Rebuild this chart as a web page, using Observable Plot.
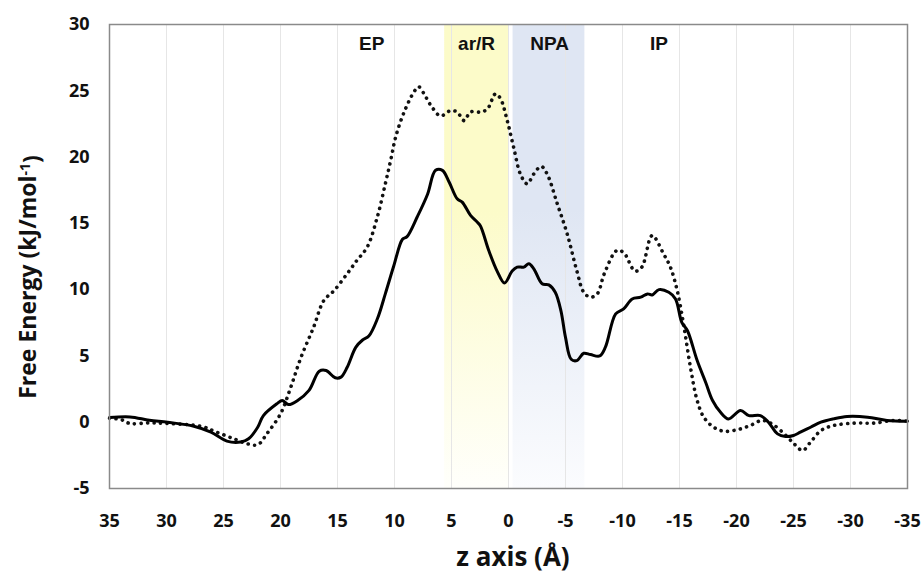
<!DOCTYPE html>
<html><head><meta charset="utf-8">
<script src="https://cdn.jsdelivr.net/npm/d3@7"></script>
<script src="https://cdn.jsdelivr.net/npm/@observablehq/plot@0.6"></script>
<style>body{margin:0;background:#fff;} #chart svg{display:block;}</style>
</head><body><div id="chart"></div>
<script>
// Solid profile: [z (Å), free energy (kJ/mol)]
const solidProfile = [
 [35,0.35],[33.2,0.4],[31.5,0.15],[29.9,0],[27.6,-0.3],[26.1,-0.75],[24.7,-1.43],[23.5,-1.5],[22.8,-1.25],
 [22.0,-0.38],[21.5,0.5],[20.3,1.4],[19.85,1.64],[19.3,1.33],[18.5,1.64],[17.5,2.4],[16.6,3.85],[16.0,3.9],
 [15.2,3.35],[14.7,3.4],[14.15,4.15],[13.4,5.65],[12.8,6.2],[12.25,6.5],[11.5,7.8],[10.8,9.7],[10.06,11.8],
 [9.3,13.8],[8.9,14.0],[8.0,15.5],[7.1,17.2],[6.4,19.0],[5.8,19.0],[5.2,18.1],[4.5,16.85],[4.06,16.6],
 [3.33,15.6],[2.75,15.1],[2.46,14.8],[1.73,12.95],[1.0,11.4],[0.35,10.5],[-0.32,11.4],[-0.76,11.7],
 [-1.34,11.7],[-1.78,11.95],[-2.22,11.57],[-2.95,10.44],[-3.54,10.36],[-4.1,9.8],[-4.6,8.4],[-5.0,6.4],
 [-5.5,4.75],[-6.0,4.65],[-6.6,5.2],[-7.2,5.1],[-8.0,5.0],[-8.5,5.66],[-9.4,8.17],[-10.1,8.55],[-10.85,9.3],
 [-11.6,9.43],[-12.2,9.68],[-12.6,9.6],[-13.2,10.0],[-14.06,9.8],[-14.65,9.3],[-15.2,7.54],[-15.7,6.9],
 [-16.55,4.65],[-17.3,3.0],[-17.9,1.64],[-18.6,0.75],[-19.3,0.25],[-20.35,0.88],[-21.1,0.5],[-22.1,0.5],
 [-22.8,0],[-23.6,-0.88],[-24.3,-1.08],[-25.0,-1.0],[-25.6,-0.75],[-26.5,-0.38],[-27.4,0],[-28.5,0.25],
 [-29.7,0.43],[-31.5,0.38],[-33.2,0.13],[-35,0.08]
];
// Dotted profile: [z (Å), free energy (kJ/mol)]
const dottedProfile = [
 [35,0.3],[34,0.2],[33.2,-0.1],[31.5,-0.05],[29.9,-0.1],[27,-0.3],[25.6,-0.75],[24.1,-1.25],[22.9,-1.63],
 [22.0,-1.7],[21.2,-0.88],[20.0,0.63],[19.1,2.64],[18.2,4.9],[17.1,7.16],[16.2,9.18],[15.3,9.93],[14.15,11.2],
 [13.3,12.2],[12.4,13.2],[11.5,15.5],[10.8,18.0],[10.3,19.9],[9.9,21.5],[9.2,23.3],[8.3,24.9],[7.87,25.3],
 [7.3,24.6],[6.7,23.75],[5.96,23.1],[5.1,23.5],[4.5,23.4],[3.9,22.75],[3.33,23.4],[2.46,23.4],[1.87,23.6],
 [1.14,24.77],[0.7,24.4],[0.11,22.75],[-0.46,20.7],[-1.05,18.7],[-1.64,17.98],[-2.2,18.7],[-2.87,19.3],
 [-3.4,18.7],[-4.27,16.5],[-5.15,14.2],[-6.0,11.4],[-6.6,9.8],[-7.2,9.43],[-7.8,9.7],[-8.4,11.2],[-9.5,12.95],
 [-10.1,12.8],[-11.1,11.4],[-11.7,11.7],[-12.6,14.08],[-13.6,12.7],[-14.2,11.7],[-14.8,9.93],[-15.4,7.16],
 [-15.96,4.15],[-16.55,1.64],[-17.13,0.38],[-18.0,-0.38],[-18.9,-0.68],[-20.06,-0.57],[-21.2,-0.25],
 [-22.25,0.13],[-23.1,-0.12],[-24.2,-0.88],[-25.05,-1.63],[-25.8,-2.13],[-26.5,-1.5],[-27.4,-0.63],
 [-28.5,-0.25],[-30.3,-0.07],[-32,-0.07],[-33.8,0.13],[-35,0.08]
];
// Shaded regions
const yellowRegion = [5.6, 0];
const blueRegion = [-0.4, -6.7];
// Region labels
const regionLabels = ["EP", "ar/R", "NPA", "IP"];
const regionLabelZ = [12.0, 2.8, -3.6, -13.2];
const regionLabelE = 28.5;
// Ticks
const xTicks = [35, 30, 25, 20, 15, 10, 5, 0, -5, -10, -15, -20, -25, -30, -35];
const yTicks = [-5, 0, 5, 10, 15, 20, 25, 30];
const xDomain = [35, -35];
const yDomain = [-5, 30];

const labels = regionLabels.map((t, i) => ({t, z: regionLabelZ[i], e: regionLabelE}));

const plot = Plot.plot({
  width: 921, height: 573,
  marginLeft: 109, marginRight: 14, marginTop: 24, marginBottom: 85,
  x: {domain: xDomain, ticks: xTicks},
  y: {domain: yDomain, ticks: yTicks},
  style: {fontFamily: "'Open Sans', sans-serif", fontWeight: 700, fontSize: "18px", color: "#111", background: "#fff"},
  marks: [
    Plot.rect([yellowRegion], {x1: d => d[0], x2: d => d[1], y1: yDomain[0], y2: yDomain[1], fill: "url(#gradYellow)"}),
    Plot.rect([blueRegion], {x1: d => d[0], x2: d => d[1], y1: yDomain[0], y2: yDomain[1], fill: "url(#gradBlue)"}),
    Plot.ruleX(xTicks, {stroke: "#e6e6e6", strokeWidth: 1}),
    Plot.axisX(xTicks, {tickSize: 0, tickPadding: 26, label: null, tickFormat: d => d}),
    Plot.axisY(yTicks, {tickSize: 0, tickPadding: 20, label: null, tickFormat: d => d}),
    Plot.line(dottedProfile, {x: d => d[0], y: d => d[1], stroke: "#111", strokeWidth: 3.6,
      strokeDasharray: "0.1 6.4", strokeLinecap: "round", curve: "catmull-rom"}),
    Plot.line(solidProfile, {x: d => d[0], y: d => d[1], stroke: "#000", strokeWidth: 3,
      curve: "catmull-rom"}),
    Plot.text(labels, {x: "z", y: "e", text: "t", fontFamily: "'Liberation Sans', Arial, sans-serif",
      fontWeight: 700, fontSize: 19, fill: "#111"}),
    Plot.frame({stroke: "#8a8a8a", strokeWidth: 1.5})
  ]
});

const svg = d3.select(plot);
const defs = svg.insert("defs", ":first-child");
function grad(id, color, end) {
  const g = defs.append("linearGradient").attr("id", id).attr("x1", 0).attr("y1", 0).attr("x2", 0).attr("y2", 1);
  g.append("stop").attr("offset", "0%").attr("stop-color", color);
  g.append("stop").attr("offset", "40%").attr("stop-color", color);
  g.append("stop").attr("offset", "100%").attr("stop-color", end);
}
grad("gradYellow", "#fcfbc9", "#fffffb");
grad("gradBlue", "#dfe6f3", "#fbfcfe");

// Axis titles
svg.append("text")
  .attr("x", 513).attr("y", 566).attr("text-anchor", "middle")
  .attr("font-family", "'Open Sans', sans-serif").attr("font-weight", 700).attr("font-size", 26)
  .attr("fill", "#111").text("z axis (Å)");
const yl = svg.append("text")
  .attr("transform", "translate(36,277) rotate(-90)").attr("text-anchor", "middle")
  .attr("font-family", "'Open Sans', sans-serif").attr("font-weight", 700).attr("font-size", 23)
  .attr("fill", "#111");
yl.append("tspan").text("Free Energy (kJ/mol");
yl.append("tspan").attr("dy", "-0.45em").attr("font-size", 14).text("-1");
yl.append("tspan").attr("dy", "0.45em").text(")");

document.getElementById("chart").appendChild(plot);
</script>
</body></html>
